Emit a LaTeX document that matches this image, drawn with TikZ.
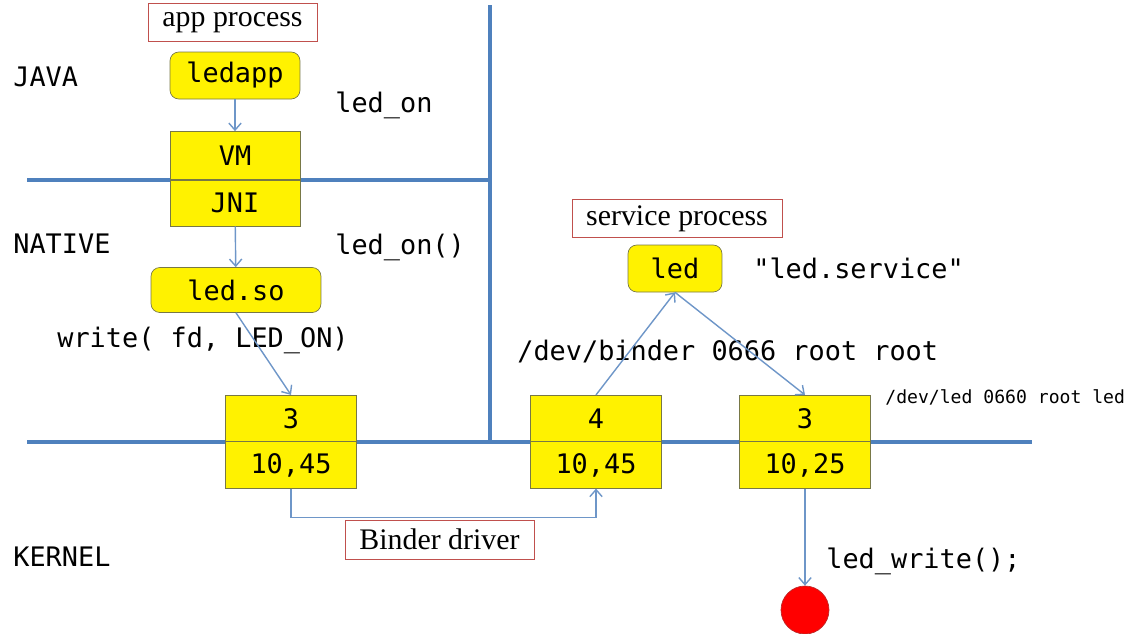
\documentclass[tikz,border=0pt]{standalone}
\usepackage{fontspec}
\usetikzlibrary{arrows.meta}
\setmainfont{Liberation Serif}
\setmonofont{DejaVu Sans Mono}
\definecolor{barblue}{RGB}{79,129,189}
\definecolor{flowblue}{RGB}{110,150,200}
\definecolor{tagred}{RGB}{192,80,77}
\definecolor{boxedge}{RGB}{120,120,70}
\definecolor{bulbedge}{RGB}{190,40,40}
\begin{document}
\begin{tikzpicture}[
  x=0.02cm, y=-0.02cm,
  proc/.style={shape=rectangle,draw=boxedge,fill=yellow,rounded corners=5pt,inner sep=0pt,font=\ttfamily\fontsize{15.3}{18}\selectfont},
  cell/.style={shape=rectangle,draw=boxedge,fill=yellow,inner sep=0pt,minimum width=2.62cm,minimum height=0.93cm,font=\ttfamily\fontsize{15.3}{18}\selectfont},
  tag/.style={shape=rectangle,draw=tagred,inner sep=0pt,minimum height=0.75cm,font=\fontsize{17}{20}\selectfont},
  flow/.style={draw=flowblue,-{Straight Barb[length=4pt,width=7pt]},line width=0.8pt},
  bar/.style={draw=barblue,line width=1.9pt},
  mono/.style={font=\ttfamily\fontsize{15.3}{18}\selectfont,inner sep=0pt,anchor=west}
]
  \useasboundingbox (0,0) rectangle (1133,633);

  \draw[bar] (27,180) -- (488,180);
  \draw[bar] (490,5) -- (490,442);
  \draw[bar] (27,442) -- (1032,442);

  \node[mono] (java)   at (13,77)  {JAVA};
  \node[mono] (native) at (13,244) {NATIVE};
  \node[mono] (kernel) at (13,557) {KERNEL};

  \node[tag,minimum width=3.38cm] (appproc) at (232.5,22.5) {app process};
  \node[proc,minimum width=2.6cm,minimum height=0.94cm] (ledapp) at (235,75.5) {ledapp};
  \node[cell,minimum width=2.6cm,minimum height=0.96cm] (vm)  at (235,155.5) {VM};
  \node[cell,minimum width=2.6cm,minimum height=0.92cm] (jni) at (235,203) {JNI};
  \node[proc,minimum width=3.4cm,minimum height=0.9cm] (ledso) at (236,290) {led.so};

  \node[mono] (ledon)   at (335,105) {led\_on};
  \node[mono] (ledonfn) at (335,247) {led\_on()};
  \node[mono] (wrcall)  at (57,340)  {write( fd, LED\_ON)};

  \node[tag,minimum width=4.2cm] (svcproc) at (677,218.5) {service process};
  \node[proc,minimum width=1.88cm,minimum height=0.94cm] (led) at (675,268.5) {led};
  \node[mono] (svcname) at (753,268) {"led.service"};
  \node[mono] (binder)  at (517,352) {/dev/binder 0666 root root};
  \node[mono,font=\ttfamily\fontsize{10.3}{12}\selectfont] (devled) at (885,397) {/dev/led 0660 root led};

  \node[cell] (fdA)  at (291,418.5) {3};
  \node[cell] (numA) at (291,465)   {10,45};
  \node[cell] (fdB)  at (596,418.5) {4};
  \node[cell] (numB) at (596,465)   {10,45};
  \node[cell] (fdC)  at (805,418.5) {3};
  \node[cell] (numC) at (805,465)   {10,25};

  \node[tag,minimum width=3.78cm,minimum height=0.78cm] (binderdrv) at (439.5,539.5) {Binder driver};
  \node[mono] (ledwrite) at (826,561) {led\_write();};
  \node[circle,fill=red,draw=bulbedge,minimum size=0.96cm,inner sep=0pt] (bulb) at (805,610) {};

  \draw[flow] (ledapp) -- (vm);
  \draw[flow] (jni) -- (ledso);
  \draw[flow] (ledso.south) -- (fdA.north);
  \draw[flow] (numA.south) -- ++(0,29) -| (numB.south);
  \draw[flow] (fdB.north) -- (led.south);
  \draw[flow] (led.south) -- (fdC.north);
  \draw[flow] (numC) -- (bulb);
\end{tikzpicture}
\end{document}
